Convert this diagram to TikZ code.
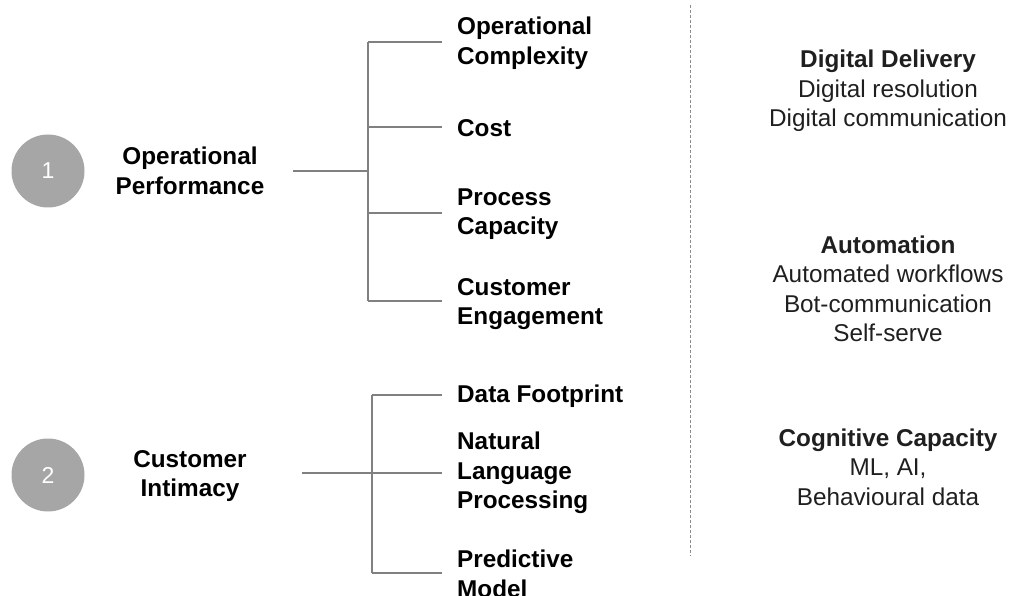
\documentclass[tikz,border=0pt]{standalone}
\usepackage{fontspec}
\setmainfont{Liberation Sans}
\begin{document}
\begin{tikzpicture}[x=1pt,y=-1pt,
  lbl/.style={font=\fontsize{24.3}{29.5}\selectfont\bfseries, text=black, inner sep=0pt},
  head/.style={lbl, align=center},
  item/.style={lbl, align=left, anchor=west},
  note/.style={font=\fontsize{24.3}{29.5}\selectfont, text=black!88, inner sep=0pt, align=center},
  badge/.style={circle, fill=black!35, minimum size=73pt, inner sep=0pt, text=white,
                font=\fontsize{23}{26}\selectfont},
  tree/.style={draw=black!50, line width=1.4pt},
  divider/.style={draw=black!45, line width=0.8pt, dash pattern=on 3pt off 2pt}]
\useasboundingbox (0,0) rectangle (1010,596);
\clip (0,0) rectangle (1010,596);

% numbered badges and the two driver headings
\node[badge] (n1) at (48,171) {1};
\node[badge] (n2) at (48,475) {2};
\node[head] (op) at (190,171) {Operational\\Performance};
\node[head] (ci) at (190,476) {Customer\\Intimacy};

% sub-factors of each driver
\node[item] (oc)  at (457,43)  {Operational\\Complexity};
\node[item] (co)  at (457,128) {Cost};
\node[item] (pc)  at (457,214) {Process\\Capacity};
\node[item] (ce)  at (457,304) {Customer\\Engagement};
\node[item] (df)  at (457,396) {Data Footprint};
\node[item] (nlp) at (457,473) {Natural\\Language\\Processing};
\node[item] (pm)  at (457,574) {Predictive\\Model};

% first tree
\coordinate (r1) at (293,171);
\coordinate (s1) at (368,171);
\coordinate (s1a) at (368,42);
\coordinate (s1b) at (368,127);
\coordinate (s1c) at (368,213);
\coordinate (s1d) at (368,301);
\coordinate (e1a) at (442,42);
\coordinate (e1b) at (442,127);
\coordinate (e1c) at (442,213);
\coordinate (e1d) at (442,301);
\draw[tree] (r1) -- (s1);
\draw[tree] (s1a) -- (s1d);
\draw[tree] (s1a) -- (e1a);
\draw[tree] (s1b) -- (e1b);
\draw[tree] (s1c) -- (e1c);
\draw[tree] (s1d) -- (e1d);

% second tree
\coordinate (r2) at (302,473);
\coordinate (s2) at (372,473);
\coordinate (s2a) at (372,395);
\coordinate (s2c) at (372,573);
\coordinate (e2a) at (442,395);
\coordinate (e2b) at (442,473);
\coordinate (e2c) at (442,573);
\draw[tree] (r2) -- (s2);
\draw[tree] (s2a) -- (s2c);
\draw[tree] (s2a) -- (e2a);
\draw[tree] (s2) -- (e2b);
\draw[tree] (s2c) -- (e2c);

% divider
\coordinate (dtop) at (690,5);
\coordinate (dbot) at (690,556);
\draw[divider] (dtop) -- (dbot);

% enabling capabilities
\node[note] (dd) at (888,91) {\textbf{Digital Delivery}\\Digital resolution\\Digital communication};
\node[note] (au) at (888,289) {\textbf{Automation}\\Automated workflows\\Bot-communication\\Self-serve};
\node[note] (cc) at (888,467) {\textbf{Cognitive Capacity}\\ML, AI,\\Behavioural data};
\end{tikzpicture}
\end{document}
